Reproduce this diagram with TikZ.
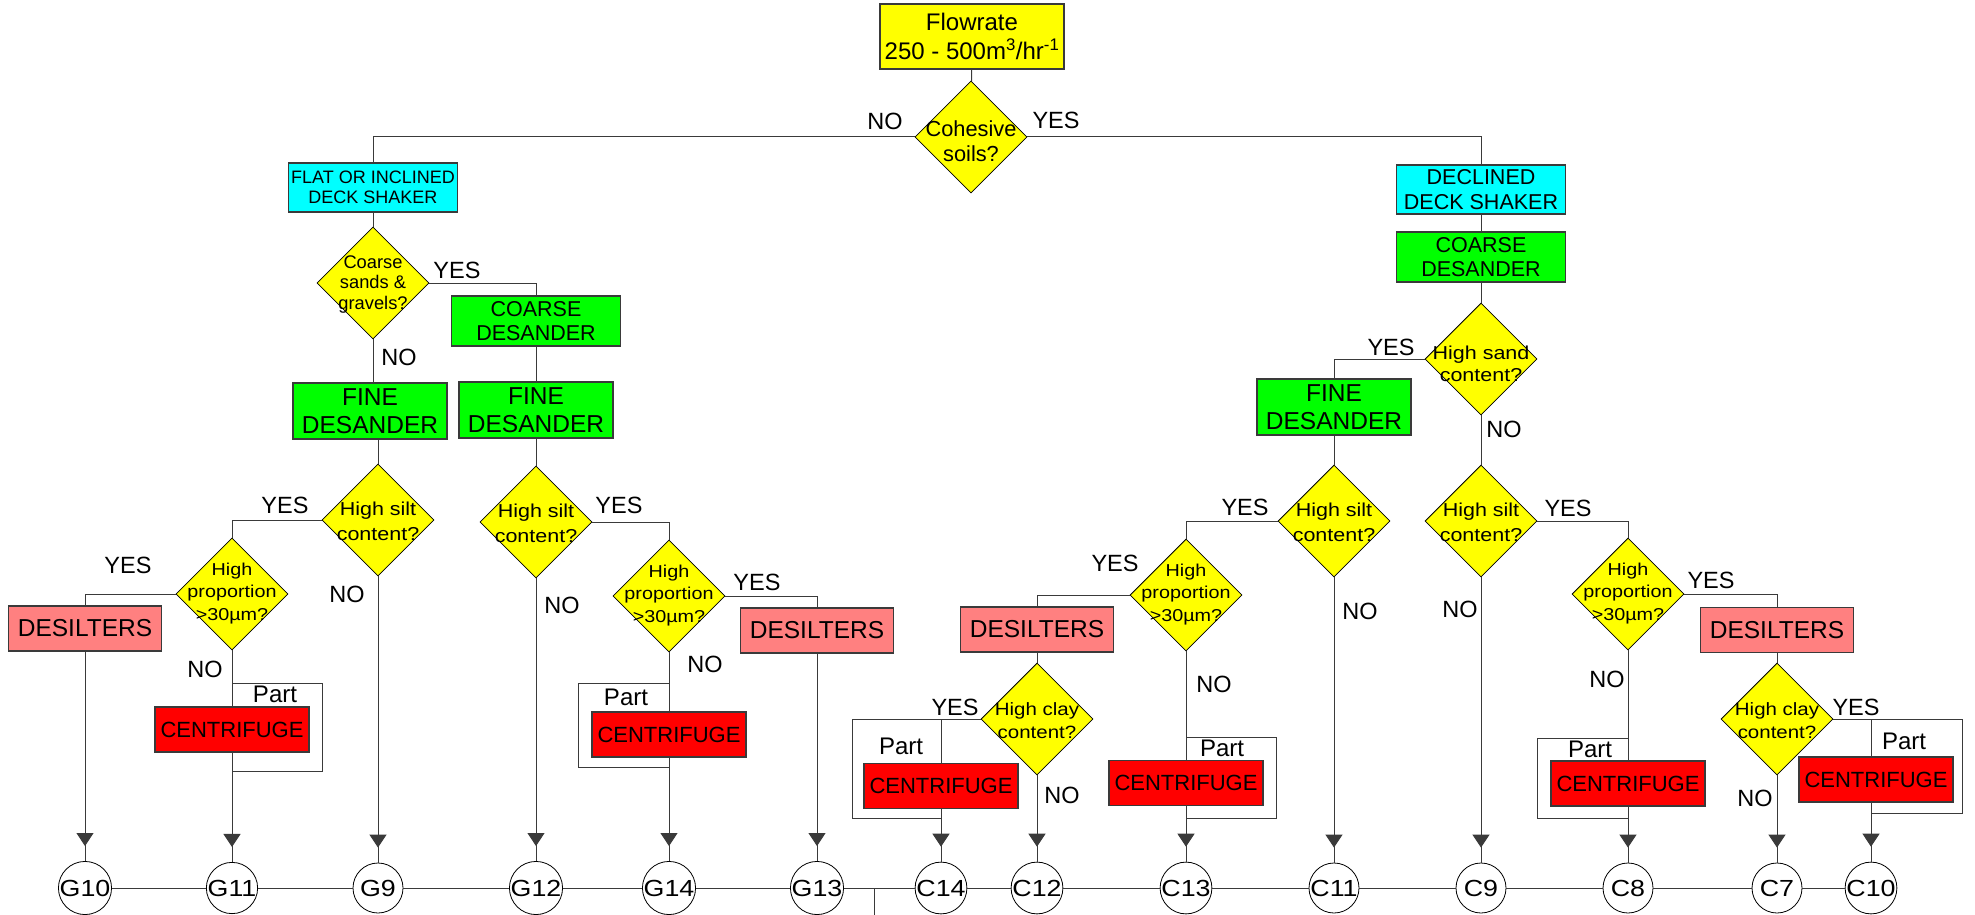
\documentclass[tikz,border=0pt]{standalone}
\usepackage{fontspec}
\setmainfont{Liberation Sans}
\newfontfamily\widefont{Liberation Sans}[FakeStretch=1.15]
\usetikzlibrary{arrows.meta,shapes.geometric}

\definecolor{shakercol}{HTML}{00FFFF}
\definecolor{sandercol}{HTML}{00FF00}
\definecolor{siltercol}{HTML}{FF8080}
\definecolor{spincol}{HTML}{FF0000}
\definecolor{askcol}{HTML}{FFFF00}
\definecolor{linecol}{HTML}{3A3A3A}

\newcommand{\fs}[2]{\fontsize{#1}{#2}\selectfont}

\begin{document}
\begin{tikzpicture}[x=1pt,y=-1pt,
  wire/.style={draw=linecol,line width=1pt},
  feed/.style={wire,postaction={draw=linecol,-{Triangle[width=17pt,length=13pt]},shorten >=15pt}},
  unit/.style={draw=linecol,line width=1.3pt,inner sep=0pt,align=center},
  shakerbox/.style={unit,fill=shakercol,minimum width=169pt,minimum height=49pt},
  sanderbox/.style={unit,fill=sandercol,minimum width=169pt,minimum height=50pt,font=\fs{21.5pt}{24pt}},
  finebox/.style={unit,fill=sandercol,minimum width=154pt,minimum height=56pt,font=\fs{24.5pt}{28pt}},
  silterbox/.style={unit,fill=siltercol,minimum width=153pt,minimum height=45pt,font=\fs{24.5pt}{28pt}},
  spinbox/.style={unit,fill=spincol,minimum width=154pt,minimum height=45pt,font=\fs{22pt}{26pt}},
  ask/.style={diamond,draw=black,line width=0.8pt,fill=askcol,minimum width=112pt,minimum height=112pt,inner sep=0pt},
  asktext/.style={align=center,inner sep=0pt,font=\widefont\fs{18.7pt}{25pt},yshift=-1.5pt},
  sandtext/.style={asktext,font=\widefont\fs{18.7pt}{22pt},yshift=-3pt},
  claytext/.style={asktext,font=\widefont\fs{17.8pt}{22.5pt},yshift=0pt},
  proptext/.style={asktext,font=\widefont\fs{17.2pt}{22.2pt},yshift=2pt},
  tag/.style={inner sep=0pt,font=\fs{23.5pt}{27pt}},
  sink/.style={circle,draw=black,line width=0.8pt,fill=white,minimum size=50pt,inner sep=0pt,font=\widefont\fs{23.3pt}{28pt}}]
\useasboundingbox (0,0) rectangle (1975,915);

\node[unit,fill=askcol,minimum width=184pt,minimum height=65pt,font=\fs{24pt}{29pt}] (flow) at (972,36.5) {Flowrate\\250 - 500m\textsuperscript{3}/hr\textsuperscript{-1}};
\node[ask,label={[asktext,font=\fs{21.8pt}{25pt},yshift=-3pt]center:{Cohesive\\soils?}}] (q0) at (971,137) {};
\node[tag] (n0) at (885,121) {NO};
\node[tag] (y0) at (1056,120) {YES};

% gravels side
\node[shakerbox,font=\fs{18pt}{20pt}] (shL) at (373,187.5) {FLAT OR INCLINED\\DECK SHAKER};
\node[ask,label={[asktext,font=\fs{18.3pt}{20.5pt},yshift=0pt]center:{Coarse\\sands \&\\gravels?}}] (q1) at (373,283) {};
\node[tag] (y1) at (457,270) {YES};
\node[tag] (n1) at (399,357) {NO};
\node[sanderbox] (coL) at (536,321) {COARSE\\DESANDER};
\node[finebox] (fiL) at (370,411) {FINE\\DESANDER};
\node[finebox] (fiR) at (536,410) {FINE\\DESANDER};

\node[ask,label={[asktext]center:{High silt\\content?}}] (q2) at (378,520) {};
\node[ask,label={[asktext]center:{High silt\\content?}}] (q3) at (536,522) {};
\node[ask,label={[proptext]center:{High\\proportion\\>30µm?}}] (p1) at (232,594) {};
\node[ask,label={[proptext]center:{High\\proportion\\>30µm?}}] (p2) at (669,596) {};
\node[tag] (y2) at (285,505) {YES};
\node[tag] (n2) at (347,594) {NO};
\node[tag] (y3) at (128,565) {YES};
\node[tag] (n3) at (205,669) {NO};
\node[tag] (y4) at (619,505) {YES};
\node[tag] (n4) at (562,605) {NO};
\node[tag] (y5) at (757,582) {YES};
\node[tag] (n5) at (705,664) {NO};

\node[silterbox] (dsL) at (85,628.5) {DESILTERS};
\node[silterbox] (dsG) at (817,630.5) {DESILTERS};
\draw[wire] (232,683) rectangle (322,771);
\draw[wire] (578,683) rectangle (669,767);
\node[tag,font=\fs{24pt}{27pt}] (pt1) at (275,694) {Part};
\node[tag,font=\fs{24pt}{27pt}] (pt2) at (626,697) {Part};
\node[spinbox] (ceL) at (232,729.5) {CENTRIFUGE};
\node[spinbox] (ceG) at (669,734.5) {CENTRIFUGE};

% cohesive side
\node[shakerbox,font=\fs{21.5pt}{25pt}] (shR) at (1481,189.5) {DECLINED\\DECK SHAKER};
\node[sanderbox] (coR) at (1481,257) {COARSE\\DESANDER};
\node[ask,label={[sandtext]center:{High sand\\content?}}] (q4) at (1481,359) {};
\node[tag] (y6) at (1391,347) {YES};
\node[tag] (n6) at (1504,429) {NO};
\node[finebox] (fiC) at (1334,407) {FINE\\DESANDER};

\node[ask,label={[asktext]center:{High silt\\content?}}] (q5) at (1334,521) {};
\node[ask,label={[asktext]center:{High silt\\content?}}] (q6) at (1481,521) {};
\node[ask,label={[proptext]center:{High\\proportion\\>30µm?}}] (p3) at (1186,595) {};
\node[ask,label={[proptext]center:{High\\proportion\\>30µm?}}] (p4) at (1628,594) {};
\node[tag] (y7) at (1245,507) {YES};
\node[tag] (n7) at (1360,611) {NO};
\node[tag] (y8) at (1115,563) {YES};
\node[tag] (n8) at (1214,684) {NO};
\node[tag] (y10) at (1568,508) {YES};
\node[tag] (n10) at (1460,609) {NO};
\node[tag] (y11) at (1711,580) {YES};
\node[tag] (n11) at (1607,679) {NO};

\node[silterbox] (dsC) at (1037,629.5) {DESILTERS};
\node[silterbox] (dsC2) at (1777,630) {DESILTERS};
\node[ask,label={[claytext]center:{High clay\\content?}}] (q7) at (1037,719) {};
\node[ask,label={[claytext]center:{High clay\\content?}}] (q8) at (1777,719) {};
\node[tag] (y9) at (955,707) {YES};
\node[tag] (n9) at (1062,795) {NO};
\node[tag] (y12) at (1856,707) {YES};
\node[tag] (n12) at (1755,798) {NO};

\draw[wire] (852,719) rectangle (941,818);
\draw[wire] (1186,737) rectangle (1276,818);
\draw[wire] (1537,738) rectangle (1628,818);
\draw[wire] (1871,719) rectangle (1962,813);
\node[tag,font=\fs{24pt}{27pt}] (pt4) at (901,746) {Part};
\node[tag,font=\fs{24pt}{27pt}] (pt3) at (1222,748.5) {Part};
\node[tag,font=\fs{24pt}{27pt}] (pt5) at (1590,749) {Part};
\node[tag,font=\fs{24pt}{27pt}] (pt6) at (1904,741) {Part};
\node[spinbox] (ceC14) at (941,786) {CENTRIFUGE};
\node[spinbox] (ceC13) at (1186,783) {CENTRIFUGE};
\node[spinbox] (ceC8) at (1628,783.5) {CENTRIFUGE};
\node[spinbox] (ceC10) at (1876,779.5) {CENTRIFUGE};

% outlets
\node[sink] (G10) at (85,888) {G10};
\node[sink] (G11) at (232,888) {G11};
\node[sink] (G9) at (378,888) {G9};
\node[sink] (G12) at (536,888) {G12};
\node[sink] (G14) at (669,888) {G14};
\node[sink] (G13) at (817,888) {G13};
\node[sink] (C14) at (941,888) {C14};
\node[sink] (C12) at (1037,888) {C12};
\node[sink] (C13) at (1186,888) {C13};
\node[sink] (C11) at (1334,888) {C11};
\node[sink] (C9) at (1481,888) {C9};
\node[sink] (C8) at (1628,888) {C8};
\node[sink] (C7) at (1777,888) {C7};
\node[sink] (C10) at (1871,888) {C10};
\coordinate (tap) at (874,888);

\draw[wire] (flow) -- (q0);
\draw[wire] (q0.west) -| (shL.north);
\draw[wire] (q0.east) -| (shR.north);
\draw[wire] (shL) -- (q1);
\draw[wire] (q1.east) -| (coL.north);
\draw[wire] (q1.south) -- (q1.south |- fiL.north);
\draw[wire] (coL) -- (fiR);
\draw[wire] (fiL.south -| q2.north) -- (q2.north);
\draw[wire] (fiR) -- (q3);
\draw[wire] (q2.west) -| (p1.north);
\draw[wire] (p1.west) -| (dsL.north);
\draw[feed] (dsL) -- (G10);
\draw[wire] (p1) -- (ceL);
\draw[feed] (ceL) -- (G11);
\draw[feed] (q2) -- (G9);
\draw[feed] (q3) -- (G12);
\draw[wire] (q3.east) -| (p2.north);
\draw[wire] (p2.east) -| (dsG.north);
\draw[feed] (dsG) -- (G13);
\draw[wire] (p2) -- (ceG);
\draw[feed] (ceG) -- (G14);

\draw[wire] (shR) -- (coR);
\draw[wire] (coR) -- (q4);
\draw[wire] (q4.west) -| (fiC.north);
\draw[wire] (fiC) -- (q5);
\draw[wire] (q4) -- (q6);
\draw[feed] (q5) -- (C11);
\draw[wire] (q5.west) -| (p3.north);
\draw[wire] (p3.west) -| (dsC.north);
\draw[wire] (dsC) -- (q7);
\draw[feed] (q7) -- (C12);
\draw[wire] (q7.west) -| (ceC14.north);
\draw[feed] (ceC14) -- (C14);
\draw[wire] (p3) -- (ceC13);
\draw[feed] (ceC13) -- (C13);
\draw[feed] (q6) -- (C9);
\draw[wire] (q6.east) -| (p4.north);
\draw[wire] (p4.east) -| (dsC2.north);
\draw[wire] (dsC2) -- (q8);
\draw[feed] (q8) -- (C7);
\draw[wire] (p4) -- (ceC8);
\draw[feed] (ceC8) -- (C8);
\draw[wire] (q8.east) -| (ceC10.north -| C10.north);
\draw[feed] (ceC10.south -| C10.north) -- (C10.north);

\draw[wire] (G10) -- (G11) -- (G9) -- (G12) -- (G14) -- (G13) -- (C14) -- (C12) -- (C13) -- (C11) -- (C9) -- (C8) -- (C7) -- (C10);
\draw[wire] (tap) -- ++(0,27);
\end{tikzpicture}
\end{document}
